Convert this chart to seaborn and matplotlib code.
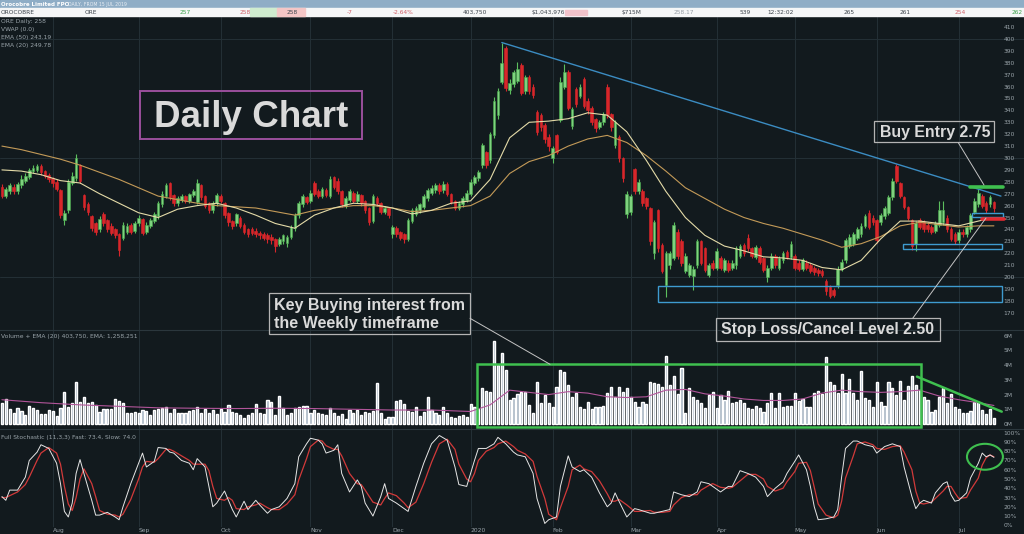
import numpy as np
import pandas as pd
import matplotlib
matplotlib.use("Agg")
import matplotlib.pyplot as plt
from matplotlib.patches import Rectangle, Ellipse
import seaborn as sns

# ============================================================
# 1. Data (ORE daily, 15 Jul 2019 - 14 Jul 2020)
# ============================================================
asx_holidays = ["2019-12-25", "2019-12-26", "2020-01-01", "2020-01-27",
                "2020-04-10", "2020-04-13", "2020-06-08"]

opens = [
    276, 268, 272, 276, 272, 277, 281, 284, 289, 290,
    293, 289, 286, 283, 280, 273, 248, 256, 279, 283,
    294, 269, 261, 251, 245, 240, 253, 248, 243, 240,
    236, 233, 238, 244, 239, 245, 249, 238, 243, 247,
    251, 261, 268, 279, 269, 262, 265, 268, 264, 269,
    263, 277, 268, 262, 256, 262, 268, 262, 254, 247,
    245, 250, 244, 240, 240, 239, 237, 236, 235, 234,
    232, 228, 230, 229, 234, 241, 252, 261, 267, 264,
    279, 272, 268, 273, 268, 284, 281, 272, 260, 265,
    271, 264, 269, 264, 258, 247, 266, 262, 255, 258,
    236, 241, 238, 236, 232, 247, 253, 256, 259, 266,
    271, 273, 277, 273, 278, 270, 264, 258, 261, 265,
    270, 279, 283, 294, 305, 298, 319, 336, 364, 392,
    357, 362, 365, 378, 356, 368, 360, 339, 336, 328,
    318, 300, 319, 332, 360, 372, 327, 358, 352, 366,
    348, 342, 333, 326, 330, 360, 337, 311, 318, 300,
    253, 255, 291, 272, 272, 266, 258, 220, 256, 227,
    193, 210, 216, 238, 230, 205, 202, 201, 210, 230,
    224, 202, 212, 208, 216, 206, 212, 208, 210, 218,
    227, 233, 224, 217, 224, 216, 200, 208, 218, 208,
    214, 221, 217, 218, 212, 207, 212, 210, 208, 206,
    205, 197, 192, 189, 193, 207, 214, 226, 228, 233,
    236, 243, 254, 250, 248, 246, 251, 254, 267, 293,
    279, 267, 259, 248, 228, 248, 246, 244, 242, 239,
    244, 246, 250, 240, 236, 231, 238, 236, 240, 255,
    261, 268, 262, 261, 263]

closes = [
    268, 274, 277, 272, 278, 282, 285, 290, 292, 293,
    288, 285, 282, 279, 274, 252, 254, 280, 285, 300,
    281, 259, 255, 241, 238, 249, 245, 240, 237, 235,
    223, 244, 243, 238, 245, 250, 237, 244, 248, 253,
    262, 270, 277, 267, 262, 266, 268, 264, 270, 272,
    279, 267, 260, 256, 262, 269, 264, 252, 246, 243,
    253, 243, 238, 236, 237, 236, 235, 233, 232, 231,
    226, 232, 235, 234, 242, 252, 262, 268, 263, 271,
    270, 268, 274, 269, 282, 276, 272, 261, 266, 272,
    264, 270, 262, 256, 246, 268, 262, 255, 258, 252,
    242, 236, 233, 232, 248, 256, 258, 261, 268, 273,
    275, 277, 272, 278, 270, 263, 258, 262, 266, 271,
    280, 284, 288, 311, 294, 320, 348, 356, 380, 359,
    363, 372, 375, 355, 368, 356, 353, 322, 326, 316,
    310, 308, 305, 364, 372, 342, 341, 345, 360, 344,
    340, 330, 325, 330, 337, 336, 326, 330, 300, 283,
    270, 268, 272, 280, 262, 260, 230, 246, 224, 205,
    220, 220, 244, 218, 212, 218, 210, 207, 230, 212,
    206, 210, 208, 222, 208, 214, 206, 212, 224, 226,
    220, 224, 218, 225, 213, 206, 208, 218, 210, 216,
    220, 217, 228, 208, 207, 214, 208, 205, 204, 203,
    202, 188, 184, 185, 207, 213, 231, 234, 236, 240,
    243, 251, 242, 246, 231, 252, 258, 267, 281, 281,
    268, 259, 250, 226, 245, 242, 240, 240, 238, 245,
    256, 256, 240, 232, 230, 238, 236, 242, 252, 264,
    271, 260, 256, 267, 258]

highs = [
    278, 276, 279, 278, 280, 286, 287, 292, 294, 295,
    295, 290, 287, 284, 282, 274, 256, 282, 288, 303,
    295, 270, 263, 252, 246, 251, 255, 249, 245, 241,
    237, 246, 245, 245, 247, 252, 250, 246, 250, 255,
    264, 272, 279, 280, 270, 268, 270, 269, 271, 274,
    282, 278, 269, 263, 264, 271, 270, 263, 255, 248,
    254, 251, 245, 241, 242, 241, 239, 238, 237, 236,
    233, 234, 236, 235, 244, 254, 264, 270, 268, 273,
    281, 274, 276, 275, 285, 285, 283, 273, 268, 274,
    272, 272, 270, 265, 259, 270, 268, 263, 260, 259,
    244, 243, 239, 237, 250, 258, 260, 262, 270, 275,
    277, 279, 279, 281, 280, 271, 265, 264, 268, 273,
    282, 286, 290, 313, 306, 322, 351, 359, 397, 394,
    366, 374, 381, 380, 370, 370, 362, 340, 338, 329,
    320, 310, 320, 368, 379, 374, 343, 360, 362, 368,
    350, 344, 334, 332, 339, 362, 338, 332, 319, 301,
    272, 270, 292, 282, 274, 267, 259, 248, 257, 229,
    222, 222, 246, 240, 232, 220, 212, 209, 232, 231,
    225, 212, 214, 224, 218, 216, 214, 214, 226, 228,
    229, 236, 225, 227, 226, 217, 210, 220, 219, 218,
    222, 223, 230, 219, 214, 216, 214, 212, 209, 208,
    207, 198, 193, 191, 209, 215, 233, 236, 238, 242,
    245, 253, 256, 252, 249, 254, 260, 269, 283, 295,
    280, 268, 260, 249, 247, 250, 248, 246, 244, 247,
    264, 264, 252, 242, 238, 240, 240, 244, 254, 266,
    274, 270, 264, 269, 264]

lows = [
    266, 266, 270, 270, 270, 275, 279, 282, 287, 288,
    286, 283, 280, 276, 272, 250, 244, 254, 277, 281,
    279, 256, 252, 239, 235, 238, 243, 238, 235, 233,
    218, 231, 236, 236, 237, 243, 235, 236, 241, 245,
    249, 259, 266, 265, 260, 260, 263, 262, 262, 267,
    261, 265, 258, 254, 254, 260, 262, 250, 243, 240,
    243, 241, 236, 234, 235, 234, 232, 231, 229, 228,
    221, 226, 228, 225, 232, 239, 250, 259, 261, 262,
    268, 266, 266, 267, 266, 274, 270, 259, 258, 263,
    262, 262, 260, 254, 244, 245, 260, 253, 253, 250,
    233, 234, 231, 229, 230, 245, 251, 254, 257, 264,
    269, 271, 270, 271, 268, 261, 256, 256, 259, 263,
    268, 277, 281, 292, 292, 296, 317, 333, 362, 356,
    354, 360, 363, 353, 354, 354, 350, 319, 323, 313,
    306, 296, 303, 330, 358, 340, 324, 343, 350, 342,
    337, 328, 322, 324, 328, 334, 323, 308, 297, 280,
    250, 252, 270, 270, 260, 257, 227, 215, 221, 203,
    183, 207, 214, 215, 209, 203, 200, 189, 208, 210,
    204, 200, 206, 206, 206, 204, 204, 206, 207, 216,
    218, 222, 216, 215, 211, 204, 196, 206, 208, 206,
    212, 215, 215, 206, 205, 205, 206, 203, 202, 201,
    200, 185, 182, 183, 191, 205, 212, 224, 226, 231,
    234, 241, 240, 244, 229, 244, 249, 252, 265, 279,
    266, 257, 248, 223, 222, 240, 238, 238, 236, 237,
    242, 244, 238, 230, 228, 229, 234, 234, 238, 253,
    259, 258, 254, 259, 255]

# volume in millions of shares
volume_m = [
    1.40, 1.68, 1.00, 0.73, 1.07, 0.90, 0.60, 1.22, 1.07, 0.95,
    0.68, 0.68, 0.95, 0.90, 0.54, 1.07, 2.20, 1.13, 1.40, 2.83,
    1.50, 1.86, 1.40, 1.50, 1.29, 0.84, 1.00, 1.00, 1.00, 1.70,
    1.56, 1.40, 0.73, 0.77, 0.84, 0.77, 0.95, 0.90, 0.60, 0.95,
    1.00, 1.07, 1.13, 0.73, 1.00, 0.77, 0.73, 0.73, 0.90, 0.95,
    1.13, 0.73, 1.00, 0.77, 0.95, 0.68, 1.00, 0.84, 1.29, 0.84,
    0.77, 0.60, 0.39, 0.60, 0.73, 1.36, 0.73, 0.68, 1.63, 1.50,
    0.60, 1.90, 1.07, 0.60, 0.73, 1.07, 1.13, 1.22, 1.22, 0.73,
    0.95, 0.77, 0.68, 0.60, 1.07, 0.73, 0.54, 0.68, 0.32, 0.95,
    0.73, 0.95, 0.60, 0.84, 0.77, 0.90, 2.77, 0.77, 0.32, 0.45,
    0.45, 1.56, 1.63, 1.36, 0.90, 0.84, 1.13, 0.54, 0.84, 1.81,
    0.95, 0.77, 0.60, 1.18, 0.73, 0.50, 0.39, 0.54, 0.60, 0.45,
    1.36, 1.13, 1.00, 2.47, 2.27, 2.20, 5.67, 4.01, 4.85, 3.67,
    1.63, 1.75, 2.04, 2.20, 2.20, 1.29, 0.77, 2.88, 1.40, 1.97,
    1.40, 1.13, 2.54, 3.67, 3.56, 2.65, 1.86, 2.09, 1.18, 1.00,
    1.50, 1.00, 1.13, 1.18, 1.22, 2.13, 2.54, 1.86, 2.54, 2.20,
    2.43, 1.81, 1.50, 1.18, 1.50, 1.36, 2.88, 2.81, 2.70, 2.54,
    4.62, 2.65, 3.26, 2.04, 3.79, 0.77, 2.43, 1.86, 1.63, 1.40,
    1.07, 1.97, 2.20, 1.07, 1.97, 1.63, 2.27, 1.45, 1.50, 1.63,
    1.40, 1.07, 1.00, 1.22, 1.07, 0.84, 1.40, 2.13, 1.07, 2.13,
    1.18, 1.22, 1.22, 2.09, 1.59, 1.68, 1.13, 1.13, 2.13, 2.27,
    2.04, 4.53, 2.88, 2.65, 2.09, 3.38, 2.09, 3.04, 2.13, 1.63,
    3.61, 1.75, 1.63, 1.13, 2.88, 1.50, 1.22, 2.88, 2.43, 1.97,
    2.95, 1.63, 2.61, 3.26, 2.65, 2.30, 1.81, 1.63, 0.84, 0.95,
    1.81, 2.43, 1.45, 2.04, 1.13, 1.00, 0.77, 0.77, 0.90, 1.50,
    1.50, 0.95, 0.68, 1.00, 0.40]

# moving averages, read every 5th trading day
ema_days = list(range(0, 251, 5)) + [254]
ema50 = [310, 307, 303, 299, 294, 288, 282, 275, 268, 265,
         262, 260, 259, 258, 255, 252, 256, 258, 260, 260,
         258, 255, 256, 258, 260, 268, 287, 297, 302, 310,
         316, 319, 313, 302, 289, 275, 266, 257, 250, 245,
         241, 236, 231, 225, 228, 234, 243, 246, 244, 242,
         243, 243]
ema20 = [290, 289, 286, 281, 279, 270, 262, 254, 250, 257,
         260, 262, 258, 252, 245, 241, 252, 258, 262, 261,
         258, 253, 256, 262, 264, 282, 317, 330, 331, 333,
         338, 336, 322, 298, 272, 250, 235, 226, 222, 217,
         216, 214, 208, 206, 214, 232, 247, 247, 245, 243,
         247, 250]

vol_ema_days = [0, 10, 20, 30, 40, 50, 60, 70, 80, 90, 100, 110, 115, 120,
                125, 130, 135, 140, 145, 150, 155, 160, 165, 170, 175, 180,
                185, 190, 195, 200, 205, 210, 215, 220, 225, 230, 235, 240,
                245, 250, 254]
vol_ema = [1.65, 1.45, 1.30, 1.20, 1.10, 1.07, 1.05, 1.07, 1.05, 1.00, 0.95,
           0.95, 0.90, 0.85, 1.30, 2.30, 2.15, 2.00, 2.20, 2.10, 1.85, 1.80,
           1.85, 2.30, 2.35, 2.05, 1.90, 1.70, 1.60, 1.60, 1.70, 2.10, 2.30,
           2.20, 2.15, 2.20, 2.30, 1.90, 1.65, 1.45, 1.26]

# full stochastic (11,3,3)
stoch_days = [
    0, 1, 2, 4, 6, 7, 9, 10, 12, 14, 15, 16, 17, 18, 19, 20, 21, 23, 24, 25,
    27, 29, 30, 31, 33, 35, 36, 37, 39, 40, 42, 43, 44, 46, 48, 49, 50, 52, 53, 54,
    55, 57, 58, 59, 60, 62, 63, 65, 66, 68, 69, 71, 73, 75, 76, 78, 79, 81, 82, 83,
    85, 86, 87, 89, 91, 92, 93, 95, 97, 98, 99, 101, 103, 104, 106, 108, 110, 112, 114, 116,
    117, 119, 120, 121, 122, 124, 126, 127, 129, 131, 132, 134, 136, 137, 139, 140, 142, 143, 145, 146,
    148, 149, 151, 153, 155, 156, 157, 158, 160, 162, 163, 166, 167, 169, 171, 172, 174, 176, 178, 179,
    181, 182, 184, 186, 187, 189, 191, 193, 195, 196, 198, 200, 201, 203, 204, 206, 207, 208, 209, 211,
    213, 214, 215, 216, 218, 219, 221, 223, 224, 226, 228, 230, 231, 233, 234, 235, 236, 238, 239, 241,
    242, 243, 244, 245, 247, 248, 250, 251, 252, 253, 254]
stoch_fast = [
    31, 27, 38, 38, 52, 70, 79, 87, 83, 67, 45, 15, 9, 24, 56, 71, 56, 27, 11, 11,
    14, 9, 6, 20, 45, 67, 78, 63, 69, 84, 83, 79, 78, 70, 67, 60, 72, 63, 42, 20,
    24, 37, 27, 17, 9, 26, 17, 27, 22, 13, 17, 20, 29, 45, 74, 88, 94, 92, 88, 78,
    81, 87, 56, 36, 49, 42, 24, 10, 31, 45, 29, 24, 18, 15, 42, 67, 88, 97, 92, 63,
    44, 42, 56, 70, 83, 83, 88, 95, 88, 79, 76, 74, 56, 29, 2, 6, 9, 42, 75, 63,
    58, 60, 52, 35, 20, 24, 35, 26, 9, 18, 17, 13, 13, 15, 17, 36, 33, 31, 36, 47,
    45, 42, 36, 42, 42, 59, 56, 52, 42, 31, 40, 47, 56, 69, 76, 60, 42, 20, 6, 7,
    9, 17, 52, 83, 91, 91, 87, 85, 78, 85, 88, 85, 63, 31, 18, 24, 27, 24, 35, 45,
    47, 33, 26, 27, 35, 51, 67, 78, 74, 76, 73.4]
stoch_slow = [
    30, 30, 32, 36, 44, 52, 70, 78, 84, 78, 66, 42, 23, 16, 30, 50, 61, 45, 31, 16,
    12, 11, 9, 12, 28, 50, 63, 69, 68, 72, 82, 82, 80, 75, 70, 66, 66, 66, 59, 42,
    29, 27, 30, 27, 18, 17, 20, 22, 24, 19, 17, 17, 23, 33, 49, 72, 85, 92, 91, 86,
    82, 82, 75, 56, 45, 44, 38, 25, 22, 29, 35, 32, 24, 19, 25, 45, 68, 88, 93, 82,
    66, 50, 47, 56, 70, 80, 84, 88, 91, 85, 81, 77, 69, 53, 29, 12, 6, 19, 42, 60,
    65, 61, 58, 48, 34, 26, 26, 28, 22, 15, 15, 16, 14, 14, 15, 22, 30, 33, 33, 38,
    43, 45, 41, 40, 41, 48, 55, 55, 50, 42, 37, 40, 47, 58, 67, 68, 59, 41, 23, 11,
    8, 11, 26, 51, 75, 88, 90, 87, 83, 82, 85, 86, 79, 60, 37, 24, 23, 25, 29, 37,
    42, 42, 35, 29, 30, 38, 51, 65, 73, 76, 74.0]

# drawn levels / zones (price units, trading-day index)
trend_days, trend_prices = [128.0, 255.8], [397, 268]
buy_entry, stop_level = 276, 248.5
zones = [(168.0, 256.0, 179.2, 192.4), (230.8, 256.0, 223.3, 227.5), (248.3, 256.3, 250.3, 253.5)]
vol_box = (121.6, 235.3, -0.2, 4.08)
vol_trend_days, vol_trend_m = [234.3, 256.0], [3.22, 0.84]

for name, arr in [("opens", opens), ("closes", closes), ("highs", highs),
                  ("lows", lows), ("volume", volume_m)]:
    assert len(arr) == 255, (name, len(arr))
assert len(stoch_days) == len(stoch_fast) == len(stoch_slow)

# ============================================================
# 2. Trading calendar
# ============================================================
dates = pd.bdate_range("2019-07-15", "2020-07-14")
dates = dates[~dates.isin(pd.to_datetime(asx_holidays))]
days = np.arange(len(dates))
month_starts = [i for i in range(1, len(dates)) if dates[i].month != dates[i - 1].month]
month_labels = ["2020" if dates[i].month == 1 else dates[i].strftime("%b") for i in month_starts]

# ============================================================
# 3. Style
# ============================================================
BG = "#121a1e"
GRID = "#243036"
TXT = "#9aa4aa"
UP, DOWN = "#7fd27f", "#d8262a"
ZONE = "#3e9bd0"
GREEN = "#3fc04f"

sns.set_style("dark", {"axes.facecolor": BG, "figure.facecolor": BG,
                       "axes.grid": False, "axes.edgecolor": BG})
plt.rcParams["font.family"] = ["DejaVu Sans"]

W, H = 1024, 534
fig = plt.figure(figsize=(W / 100, H / 100), dpi=100)
fig.patch.set_facecolor(BG)


def band(top, bottom):
    return [0, 1 - bottom / H, 1, (bottom - top) / H]


ax_p = fig.add_axes(band(16, 330))
ax_v = fig.add_axes(band(330, 429), sharex=ax_p)
ax_s = fig.add_axes(band(429, 527), sharex=ax_p)

# ============================================================
# 4. Price panel: candles + EMAs
# ============================================================
o, c = np.array(opens), np.array(closes)
up = c >= o
colors = np.where(up, UP, DOWN)
ax_p.vlines(days, lows, highs, colors=np.where(up, "#5cbf5e", DOWN), lw=0.8, zorder=3)
ax_p.bar(days, np.maximum(np.abs(c - o), 0.8), bottom=np.minimum(o, c), width=0.68,
         color=colors, edgecolor=np.where(up, "#48aa4c", DOWN), linewidth=0.4, zorder=4)

sns.lineplot(x=ema_days, y=ema50, ax=ax_p, color="#c39a58", linewidth=0.8, zorder=5)
sns.lineplot(x=ema_days, y=ema20, ax=ax_p, color="#e4dba8", linewidth=0.8, zorder=5)

ax_p.plot(trend_days, trend_prices, color="#3b8cc2", lw=1.0, zorder=6)
for x0, x1, y0, y1 in zones:
    ax_p.add_patch(Rectangle((x0, y0), x1 - x0, y1 - y0, fill=False, ec=ZONE, lw=1.0, zorder=6))
ax_p.plot([248.0, 256.3], [buy_entry, buy_entry], color=GREEN, lw=2.6, zorder=7)
ax_p.plot([250.9, 256.5], [stop_level, stop_level], color="#e02a30", lw=2.6, zorder=7)

ax_p.set_ylim(155.5, 419.3)
ax_p.set_yticks(range(170, 411, 10))
for lvl in (200, 300, 400):
    ax_p.axhline(lvl, color=GRID, lw=0.7, zorder=0)

# ============================================================
# 5. Volume panel
# ============================================================
ax_v.bar(days, volume_m, width=0.55, color="#a9b6c4", zorder=3)
sns.lineplot(x=vol_ema_days, y=vol_ema, ax=ax_v, color="#b2559a", linewidth=0.8, zorder=4)
bx0, bx1, by0, by1 = vol_box
ax_v.add_patch(Rectangle((bx0, by0), bx1 - bx0, by1 - by0, fill=False, ec=GREEN, lw=1.8, zorder=5))
ax_v.plot(vol_trend_days, vol_trend_m, color=GREEN, lw=1.8, zorder=5)
ax_v.set_ylim(-0.34, 6.39)
ax_v.set_yticks(range(0, 7))
ax_v.set_yticklabels([f"{v}M" for v in range(0, 7)])

# ============================================================
# 6. Stochastic panel
# ============================================================
sns.lineplot(x=stoch_days, y=stoch_slow, ax=ax_s, color="#d23a3a", linewidth=0.9, zorder=3)
sns.lineplot(x=stoch_days, y=stoch_fast, ax=ax_s, color="#e6e6e6", linewidth=0.7, zorder=4)
ax_s.add_patch(Ellipse((251.7, 74), 9.2, 28, fill=False, ec=GREEN, lw=1.5, zorder=5))
ax_s.set_ylim(-1.84, 104)
ax_s.set_yticks(range(0, 101, 10))
ax_s.set_yticklabels([f"{v}%" for v in range(0, 101, 10)])

# ============================================================
# 7. Shared axis cosmetics
# ============================================================
for ax in (ax_p, ax_v, ax_s):
    ax.set_facecolor(BG)
    ax.set_xlabel("")
    ax.set_ylabel("")
    for m in month_starts:
        ax.axvline(m, color=GRID, lw=0.7, zorder=0)
    for side in ("left", "right", "bottom", "top"):
        ax.spines[side].set_visible(False)
    ax.yaxis.tick_right()
    ax.tick_params(axis="y", length=0, pad=-14.6, labelsize=4.3, labelcolor=TXT)
    ax.tick_params(axis="x", length=0)
for ax in (ax_v, ax_s):
    ax.spines["top"].set_visible(True)
    ax.spines["top"].set_color("#2b373d")
    ax.spines["top"].set_linewidth(0.8)
ax_p.tick_params(labelbottom=False)
ax_v.tick_params(labelbottom=False)
ax_s.set_xlim(-0.49, 261.7)
ax_s.set_xticks(month_starts)
ax_s.set_xticklabels(month_labels, ha="left")
ax_s.tick_params(axis="x", pad=0.7, labelsize=4.3, labelcolor=TXT)

# ============================================================
# 8. Overlay: header, panel captions, annotation boxes (pixel coords)
# ============================================================
ov = fig.add_axes([0, 0, 1, 1])
ov.set_xlim(0, W)
ov.set_ylim(H, 0)
ov.axis("off")
ov.patch.set_alpha(0)

ov.add_patch(Rectangle((0, 0), W, 8.3, color="#8fadc6"))
ov.add_patch(Rectangle((0, 8.3), W, 7.7, color="#f5f6f7"))
ov.add_patch(Rectangle((250, 8.3), 27, 7.7, color="#cfeccf"))
ov.add_patch(Rectangle((277, 8.3), 28, 7.7, color="#f4c6c6"))
ov.add_patch(Rectangle((565, 9.5), 22, 5.5, color="#f1c2ca"))
ov.text(1, 4.3, "Orocobre Limited FPO", color="white", fontsize=4.0,
        fontweight="bold", va="center")
ov.text(68, 4.5, "DAILY, FROM 15 JUL 2019", color="#e8eef4", fontsize=3.3, va="center")

DARK, RED_T, GRN_T = "#3c444c", "#d06068", "#3aa04a"
ticker = [(1, "OROCOBRE", DARK), (85, "ORE", DARK), (180, "257", GRN_T),
          (240, "258", RED_T), (287, "258", DARK), (347, "-7", RED_T),
          (393, "-2.64%", RED_T), (463, "403,750", DARK), (532, "$1,043,976", DARK),
          (622, "$715M", DARK), (674, "258.17", "#959da5"), (740, "539", DARK),
          (767, "12:32:02", DARK), (844, "265", DARK), (900, "261", DARK),
          (955, "254", RED_T), (1012, "262", GRN_T)]
for x, s, col in ticker:
    ov.text(x, 12.3, s, color=col, fontsize=4.2, va="center")

for y, s in [(22, "ORE Daily: 258"), (30, "VWAP (0.0)"),
             (37.7, "EMA (50) 243.19"), (45.3, "EMA (20) 249.78")]:
    ov.text(1, y, s, color=TXT, fontsize=4.3, va="center")
ov.text(1, 336.7, "Volume + EMA (20) 403,750, EMA: 1,258,251", color=TXT, fontsize=4.3, va="center")
ov.text(1, 438, "Full Stochastic (11,3,3) Fast: 73.4, Slow: 74.0", color=TXT, fontsize=4.3, va="center")

LABEL = dict(family="Liberation Sans", fontweight="bold", color="#dadada")
BOX_EC = "#b4b4b4"

ov.add_patch(Rectangle((140, 90.7), 222, 48.6, fill=False, ec="#9a4f9c", lw=1.4))
ov.text(250.8, 127.3, "Daily Chart", ha="center", va="baseline", fontsize=26.5, **LABEL)

ov.add_patch(Rectangle((874.3, 120.7), 120, 21.3, fill=False, ec=BOX_EC, lw=0.9))
ov.text(935, 137.3, "Buy Entry 2.75", ha="center", va="baseline", fontsize=11.4, **LABEL)
ov.plot([958.3, 984], [142.7, 185], color="#c4c4c4", lw=0.7)

ov.add_patch(Rectangle((715.7, 318.3), 224.3, 22.4, fill=False, ec=BOX_EC, lw=0.9))
ov.text(827.5, 334.3, "Stop Loss/Cancel Level 2.50", ha="center", va="baseline",
        fontsize=11.4, **LABEL)
ov.plot([912.7, 986], [318.3, 218], color="#c4c4c4", lw=0.7)

ov.add_patch(Rectangle((269.3, 292.7), 200.7, 41.6, fill=False, ec=BOX_EC, lw=0.9))
ov.text(274, 310, "Key Buying interest from", ha="left", va="baseline", fontsize=11.5, **LABEL)
ov.text(274, 327.7, "the Weekly timeframe", ha="left", va="baseline", fontsize=11.5, **LABEL)
ov.plot([470, 550], [318.3, 364.3], color="#c4c4c4", lw=0.7)

fig.savefig("out.png", dpi=100, facecolor=BG)
